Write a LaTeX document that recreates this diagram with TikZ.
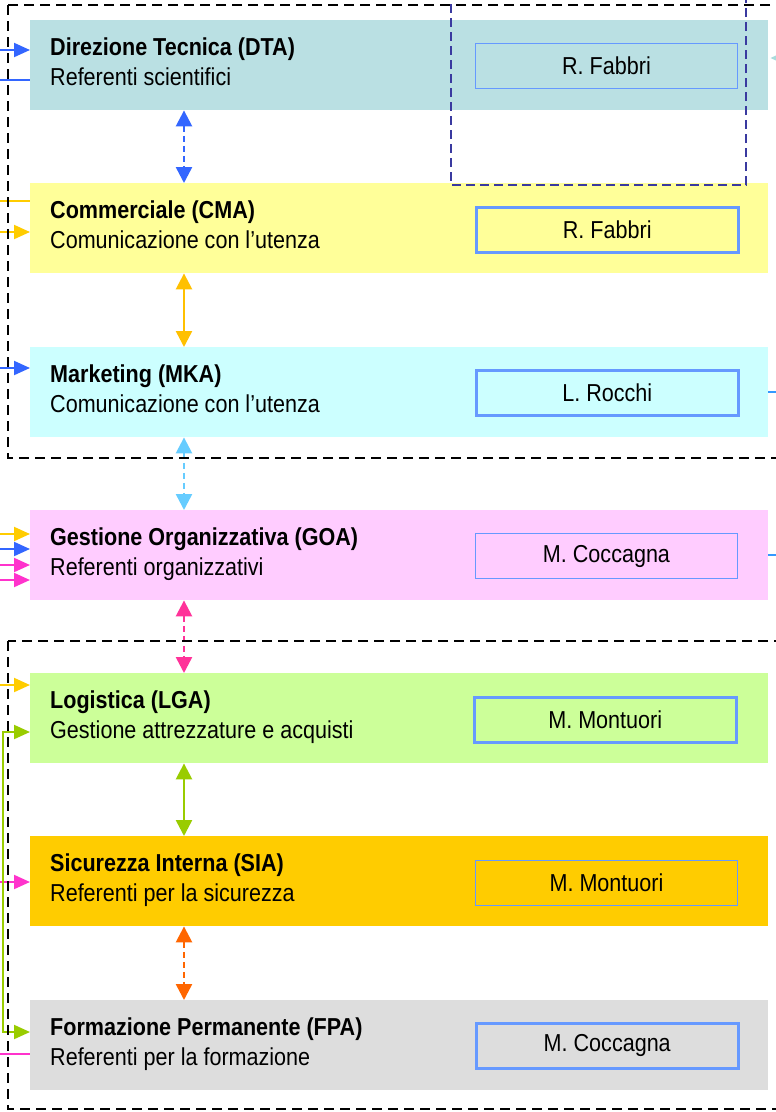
\documentclass[tikz,border=0pt]{standalone}
\usepackage{fontspec}
\setmainfont{Liberation Sans}[FakeStretch=0.88]
\usetikzlibrary{arrows.meta}
\definecolor{cDTA}{HTML}{BAE0E3}
\definecolor{cCMA}{HTML}{FFFF99}
\definecolor{cMKA}{HTML}{CCFFFF}
\definecolor{cGOA}{HTML}{FFCCFF}
\definecolor{cLGA}{HTML}{CCFF99}
\definecolor{cSIA}{HTML}{FFCC00}
\definecolor{cFPA}{HTML}{DDDDDD}
\definecolor{nameblue}{HTML}{6699FF}
\definecolor{lblue}{HTML}{3366FF}
\definecolor{lgold}{HTML}{FFCC00}
\definecolor{lpink}{HTML}{FF33CC}
\definecolor{lgreen}{HTML}{99CC00}
\definecolor{vgold}{HTML}{FFC000}
\definecolor{vsky}{HTML}{66CCFF}
\definecolor{vpink}{HTML}{FF3399}
\definecolor{vorange}{HTML}{FF6600}
\definecolor{rblue}{HTML}{3399FF}
\definecolor{rcyan}{HTML}{A8DCDC}
\definecolor{frameblue}{HTML}{3A3AA0}
\begin{document}
\begin{tikzpicture}[x=1pt,y=-1pt,
  unit/.style={draw=none,fill=#1,minimum width=738pt,minimum height=90pt,anchor=north west,inner sep=0pt},
  title/.style={anchor=base west,inner sep=0pt,font=\fontsize{24.5}{29}\selectfont\bfseries},
  subtitle/.style={anchor=base west,inner sep=0pt,font=\fontsize{24.5}{29}\selectfont},
  namebox/.style={draw=nameblue,line width=1pt,minimum width=262pt,minimum height=45pt,anchor=north west,inner sep=0pt,font=\fontsize{24.5}{29}\selectfont},
  namethick/.style={namebox,line width=2.5pt},
  vtip/.style={{Triangle[length=16pt,width=16pt]}-{Triangle[length=16pt,width=16pt]}},
  varrow/.style={vtip,line width=2.5pt},
  vdash/.style={varrow,dash pattern=on 6pt off 4pt},
  harrow/.style={-{Triangle[length=16pt,width=14pt]},line width=2pt},
  hline/.style={line width=2pt},
  outerframe/.style={draw=black,line width=2pt,dash pattern=on 10pt off 6pt},
  blueframe/.style={draw=frameblue,line width=2pt,dash pattern=on 9pt off 5pt}
]
\useasboundingbox (0,0) rectangle (776,1112);

% unit boxes
\node[unit=cDTA] (dta) at (30,20) {};
\node[unit=cCMA] (cma) at (30,183) {};
\node[unit=cMKA] (mka) at (30,347) {};
\node[unit=cGOA] (goa) at (30,510) {};
\node[unit=cLGA] (lga) at (30,673) {};
\node[unit=cSIA] (sia) at (30,836) {};
\node[unit=cFPA] (fpa) at (30,1000) {};

% titles
\node[title] (dtaT) at (50,55) {Direzione Tecnica (DTA)};
\node[subtitle] (dtaS) at (50,85) {Referenti scientifici};
\node[title] (cmaT) at (50,218) {Commerciale (CMA)};
\node[subtitle] (cmaS) at (50,248) {Comunicazione con l’utenza};
\node[title] (mkaT) at (50,382) {Marketing (MKA)};
\node[subtitle] (mkaS) at (50,412) {Comunicazione con l’utenza};
\node[title] (goaT) at (50,545) {Gestione Organizzativa (GOA)};
\node[subtitle] (goaS) at (50,575) {Referenti organizzativi};
\node[title] (lgaT) at (50,708) {Logistica (LGA)};
\node[subtitle] (lgaS) at (50,738) {Gestione attrezzature e acquisti};
\node[title] (siaT) at (50,871) {Sicurezza Interna (SIA)};
\node[subtitle] (siaS) at (50,901) {Referenti per la sicurezza};
\node[title] (fpaT) at (50,1035) {Formazione Permanente (FPA)};
\node[subtitle] (fpaS) at (50,1065) {Referenti per la formazione};

% name boxes
\node[namebox] (dtaN) at (475,43) {R. Fabbri};
\node[namethick] (cmaN) at (475,206) {R. Fabbri};
\node[namethick] (mkaN) at (475,369) {L. Rocchi};
\node[namebox] (goaN) at (475,533) {M. Coccagna};
\node[namethick] (lgaN) at (473,696) {M. Montuori};
\node[namebox] (siaN) at (475,860) {M. Montuori};
\node[namethick] (fpaN) at (475,1022) {M. Coccagna};

% vertical connectors
\coordinate (ax) at (184,0);
\draw[vdash,lblue] (ax |- dta.south) -- (ax |- cma.north);
\draw[varrow,vgold] (ax |- cma.south) -- (ax |- mka.north);
\draw[vdash,vsky] (ax |- mka.south) -- (ax |- goa.north);
\draw[vdash,vpink] (ax |- goa.south) -- (ax |- lga.north);
\draw[varrow,lgreen] (ax |- lga.south) -- (ax |- sia.north);
\draw[vdash,vorange] (ax |- sia.south) -- (ax |- fpa.north);

% left incoming connectors
\coordinate (a1) at (0,50);
\coordinate (a2) at (0,80);
\coordinate (a3) at (0,201);
\coordinate (a4) at (0,232);
\coordinate (a5) at (0,368);
\coordinate (a6) at (0,534);
\coordinate (a7) at (0,549);
\coordinate (a8) at (0,565);
\coordinate (a9) at (0,580);
\coordinate (a10) at (0,685);
\coordinate (a11) at (0,882);
\coordinate (a12) at (0,1054);
\draw[harrow,lblue] (a1) -- (a1 -| dta.west);
\draw[hline,lblue] (a2) -- (a2 -| dta.west);
\draw[hline,lgold] (a3) -- (a3 -| cma.west);
\draw[harrow,lgold] (a4) -- (a4 -| cma.west);
\draw[harrow,lblue] (a5) -- (a5 -| mka.west);
\draw[harrow,lgold] (a6) -- (a6 -| goa.west);
\draw[harrow,lblue] (a7) -- (a7 -| goa.west);
\draw[harrow,lpink] (a8) -- (a8 -| goa.west);
\draw[harrow,lpink] (a9) -- (a9 -| goa.west);
\draw[harrow,lgold] (a10) -- (a10 -| lga.west);
\draw[harrow,lpink] (a11) -- (a11 -| sia.west);
\draw[hline,lpink] (a12) -- (a12 -| fpa.west);

% green loop LGA <-> FPA
\coordinate (g0) at (3,732);
\coordinate (g1) at (3,1032);
\draw[lgreen,line width=2pt,{Triangle[length=16pt,width=14pt]}-{Triangle[length=16pt,width=14pt]}]
  (g0 -| lga.west) -- (g0) -- (g1) -- (g1 -| fpa.west);

% right side connectors
\coordinate (r0) at (800,58);
\coordinate (r1) at (780,392);
\coordinate (r2) at (780,555);
\draw[rcyan,line width=2pt,-{Triangle[length=16pt,width=14pt]}] (r0) -- ([xshift=2pt]r0 -| dta.east);
\draw[hline,rblue] (r1 -| mka.east) -- (r1);
\draw[hline,rblue] (r2 -| goa.east) -- (r2);

% frames
\draw[outerframe] (8,5) rectangle (800,458);
\draw[outerframe] (8,641) rectangle (800,1109);
\draw[blueframe] (451,-10) rectangle (746,185);
\end{tikzpicture}
\end{document}
